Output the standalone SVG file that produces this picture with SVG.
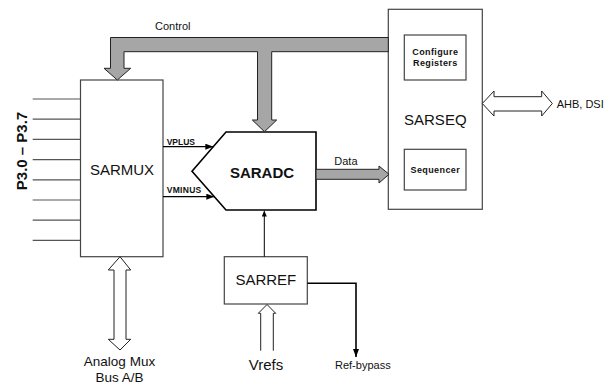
<svg xmlns="http://www.w3.org/2000/svg" width="613" height="385" viewBox="0 0 613 385">
<defs>
<style>
.box{fill:#fff;stroke:#444;stroke-width:1.2}
.bus{fill:#a6a6a6;stroke:#222;stroke-width:1}
.hollow{fill:#fff;stroke:#222;stroke-width:1}
.pin{stroke:#555;stroke-width:1.2}
.t{font-family:"Liberation Sans",Arial,sans-serif;fill:#111}
.big{font-size:15px}
.lbl{font-size:11px}
.b{font-weight:bold}
.sig{font-size:8.5px;font-weight:bold}
.inner{font-size:9px;font-weight:bold;letter-spacing:0.4px}
</style>
<marker id="ah" markerWidth="8" markerHeight="6" refX="8" refY="3" orient="auto" markerUnits="userSpaceOnUse">
<path d="M0,0 L8,3 L0,6 z" fill="#000"/>
</marker>
<marker id="ahs" markerWidth="5" markerHeight="6" refX="6" refY="2.5" orient="auto" markerUnits="userSpaceOnUse">
<path d="M0,0 L6,2.5 L0,5 z" fill="#000"/>
</marker>
</defs>
<rect width="613" height="385" fill="#fff"/>

<g id="sarmux">
<rect class="box" x="80.5" y="80" width="82.5" height="176.7"/>
<text class="t big" x="122" y="175" text-anchor="middle">SARMUX</text>
</g>

<g id="pins">
<line class="pin" x1="32.7" y1="99" x2="80" y2="99"/>
<line class="pin" x1="32.7" y1="119.2" x2="80" y2="119.2"/>
<line class="pin" x1="32.7" y1="139.4" x2="80" y2="139.4"/>
<line class="pin" x1="32.7" y1="159.6" x2="80" y2="159.6"/>
<line class="pin" x1="32.7" y1="179.8" x2="80" y2="179.8"/>
<line class="pin" x1="32.7" y1="200" x2="80" y2="200"/>
<line class="pin" x1="32.7" y1="220.2" x2="80" y2="220.2"/>
<line class="pin" x1="32.7" y1="240.4" x2="80" y2="240.4"/>
<text class="t b" font-size="15" transform="translate(27,151) rotate(-90)" text-anchor="middle">P3.0 – P3.7</text>
</g>

<g id="saradc">
<polygon points="226,132 316,132 316,210 226,210 192,171.3" fill="#fff" stroke="#000" stroke-width="1.6"/>
<text class="t big b" x="262" y="177.5" text-anchor="middle">SARADC</text>
</g>

<g id="sarseq">
<rect class="box" x="388.3" y="9.3" width="94" height="200"/>
<text class="t big" x="435.3" y="125" text-anchor="middle">SARSEQ</text>
</g>
<g id="config">
<rect class="box" x="404.3" y="35" width="61.7" height="45"/>
<text class="t inner" x="435.3" y="54.5" text-anchor="middle">Configure</text>
<text class="t inner" x="435.3" y="66" text-anchor="middle">Registers</text>
</g>
<g id="sequencer">
<rect class="box" x="404.3" y="149.3" width="61.7" height="40.7"/>
<text class="t inner" x="435.3" y="173" text-anchor="middle">Sequencer</text>
</g>

<g id="sarref">
<rect class="box" x="224.3" y="256.7" width="83" height="47.3"/>
<text class="t big" x="265.8" y="285" text-anchor="middle">SARREF</text>
</g>

<g id="connectors">
<path class="bus" d="M388.3,37.5 H110.5 V68.3 H104 L117.3,80 L130.7,68.3 H124 V51.7 H257.5 V120 H252.3 L264.5,131.7 L276.7,120 H271.7 V51.7 H388.3 Z"/>
<text class="t lbl" x="155" y="30">Control</text>

<path class="bus" d="M316,169.3 H379 V166 L389,174.3 L379,183 V179.3 H316 Z"/>
<text class="t lbl" x="334.3" y="165">Data</text>

<line x1="163" y1="146.7" x2="213.3" y2="146.7" stroke="#000" stroke-width="1.3" marker-end="url(#ah)"/>
<text class="t sig" x="166.7" y="145">VPLUS</text>
<line x1="163" y1="196.7" x2="214.3" y2="196.7" stroke="#000" stroke-width="1.3" marker-end="url(#ah)"/>
<text class="t sig" x="166.7" y="193.3" letter-spacing="0.3">VMINUS</text>

<path class="hollow" d="M482.3,103.5 L494,91 V96.7 H541.7 V91 L552.3,103.5 L541.7,116 V111 H494 V116 Z"/>
<text class="t lbl" x="556.7" y="107.5">AHB, DSI</text>

<path class="hollow" d="M120,256.7 L130.7,270 H126 V339.3 H130.7 L120,350 L108.3,339.3 H114 V270 H108.3 Z"/>
<text class="t" font-size="13.5" x="119.5" y="366" text-anchor="middle">Analog Mux</text>
<text class="t" font-size="13.5" x="119.5" y="381.8" text-anchor="middle">Bus A/B</text>

<line x1="264.3" y1="256.7" x2="264.3" y2="210.5" stroke="#000" stroke-width="1" marker-end="url(#ahs)"/>

<path class="hollow" d="M260.7,350.7 V313.3 H258.3 L267,304.5 L275.7,313.3 H273.3 V350.7"/>
<text class="t big" x="266" y="370" text-anchor="middle">Vrefs</text>

<path d="M307.3,283.3 H356 V357" fill="none" stroke="#000" stroke-width="1.6" marker-end="url(#ah)"/>
<text class="t lbl" x="335" y="369">Ref-bypass</text>
</g>
</svg>
